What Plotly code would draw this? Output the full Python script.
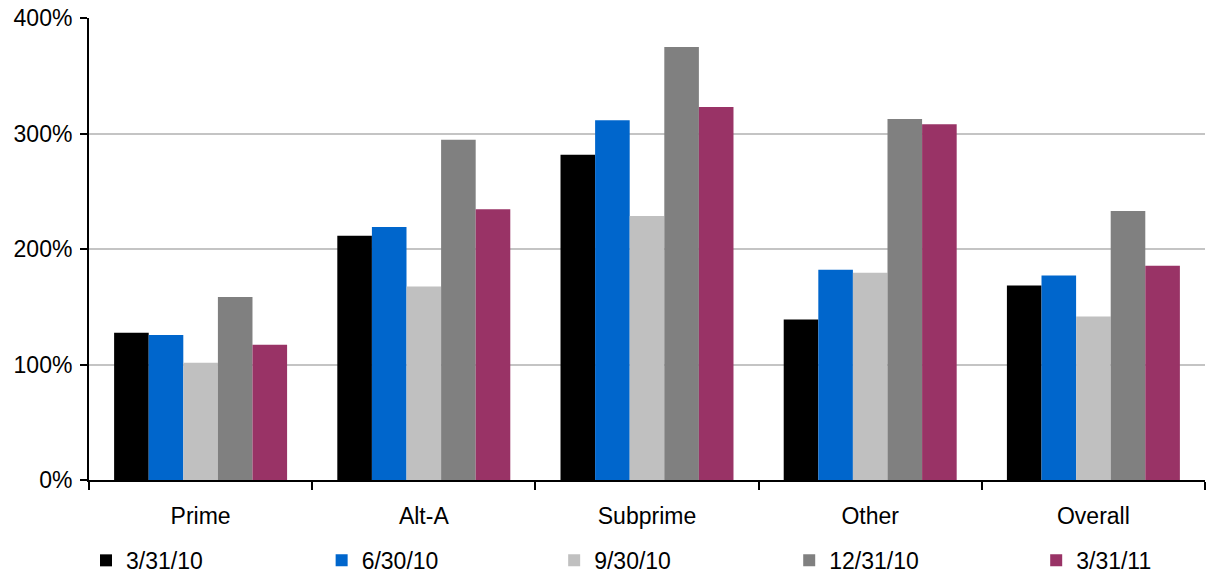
import plotly.graph_objects as go

# Loan categories and quarter-end dates
categories = ["Prime", "Alt-A", "Subprime", "Other", "Overall"]
dates = ["3/31/10", "6/30/10", "9/30/10", "12/31/10", "3/31/11"]

# Values in percent, one list per quarter-end
q_2010_03 = [127.5, 211.5, 281.5, 139, 168.5]
q_2010_06 = [125.5, 219, 311.5, 182, 177]
q_2010_09 = [101.5, 167.5, 228.5, 179.5, 141.5]
q_2010_12 = [158.5, 294.5, 375, 312.5, 233]
q_2011_03 = [117, 234.5, 323, 308, 185.5]

series = [q_2010_03, q_2010_06, q_2010_09, q_2010_12, q_2011_03]
colors = ["#000000", "#0066CC", "#C0C0C0", "#808080", "#993366"]

y_ticks = [0, 100, 200, 300, 400]
y_tick_text = ["0%", "100%", "200%", "300%", "400%"]

FONT = "Liberation Sans, Arial, sans-serif"

# Each series gets its own one-item legend so the keys can be spaced freely
legend_ids = ["legend", "legend2", "legend3", "legend4", "legend5"]
legend_x = [0.0713, 0.2667, 0.4595, 0.6544, 0.8592]

fig = go.Figure()
for name, vals, col, lid in zip(dates, series, colors, legend_ids):
    fig.add_trace(go.Bar(x=categories, y=vals, name=name, legend=lid,
                         marker=dict(color=col, line=dict(width=0))))

legend_common = dict(orientation="h", xref="container", xanchor="left",
                     y=0.022, yref="container", yanchor="middle",
                     font=dict(family=FONT, size=23, color="#000000"),
                     itemwidth=30, bgcolor="rgba(0,0,0,0)")

fig.update_layout(
    width=1206, height=573,
    margin=dict(l=89, r=1, t=18, b=93, autoexpand=False),
    paper_bgcolor="white", plot_bgcolor="white",
    barmode="group", bargap=0.225, bargroupgap=0,
    font=dict(family=FONT, size=23, color="#000000"),
    showlegend=True,
    **{lid: dict(x=lx, **legend_common) for lid, lx in zip(legend_ids, legend_x)},
)
fig.update_xaxes(
    showline=True, linecolor="#000000", linewidth=2,
    ticks="outside", tickson="boundaries", ticklen=8, tickwidth=2, tickcolor="#000000",
    ticklabelstandoff=14, showgrid=False,
)
fig.update_yaxes(
    range=[0, 400], tickvals=y_ticks, ticktext=y_tick_text,
    showline=True, linecolor="#000000", linewidth=2,
    ticks="outside", ticklen=7, tickwidth=2, tickcolor="#000000",
    ticklabelstandoff=3,
    showgrid=True, gridcolor="#C4C4C4", gridwidth=2, zeroline=False,
)

fig.write_html("out.html")
